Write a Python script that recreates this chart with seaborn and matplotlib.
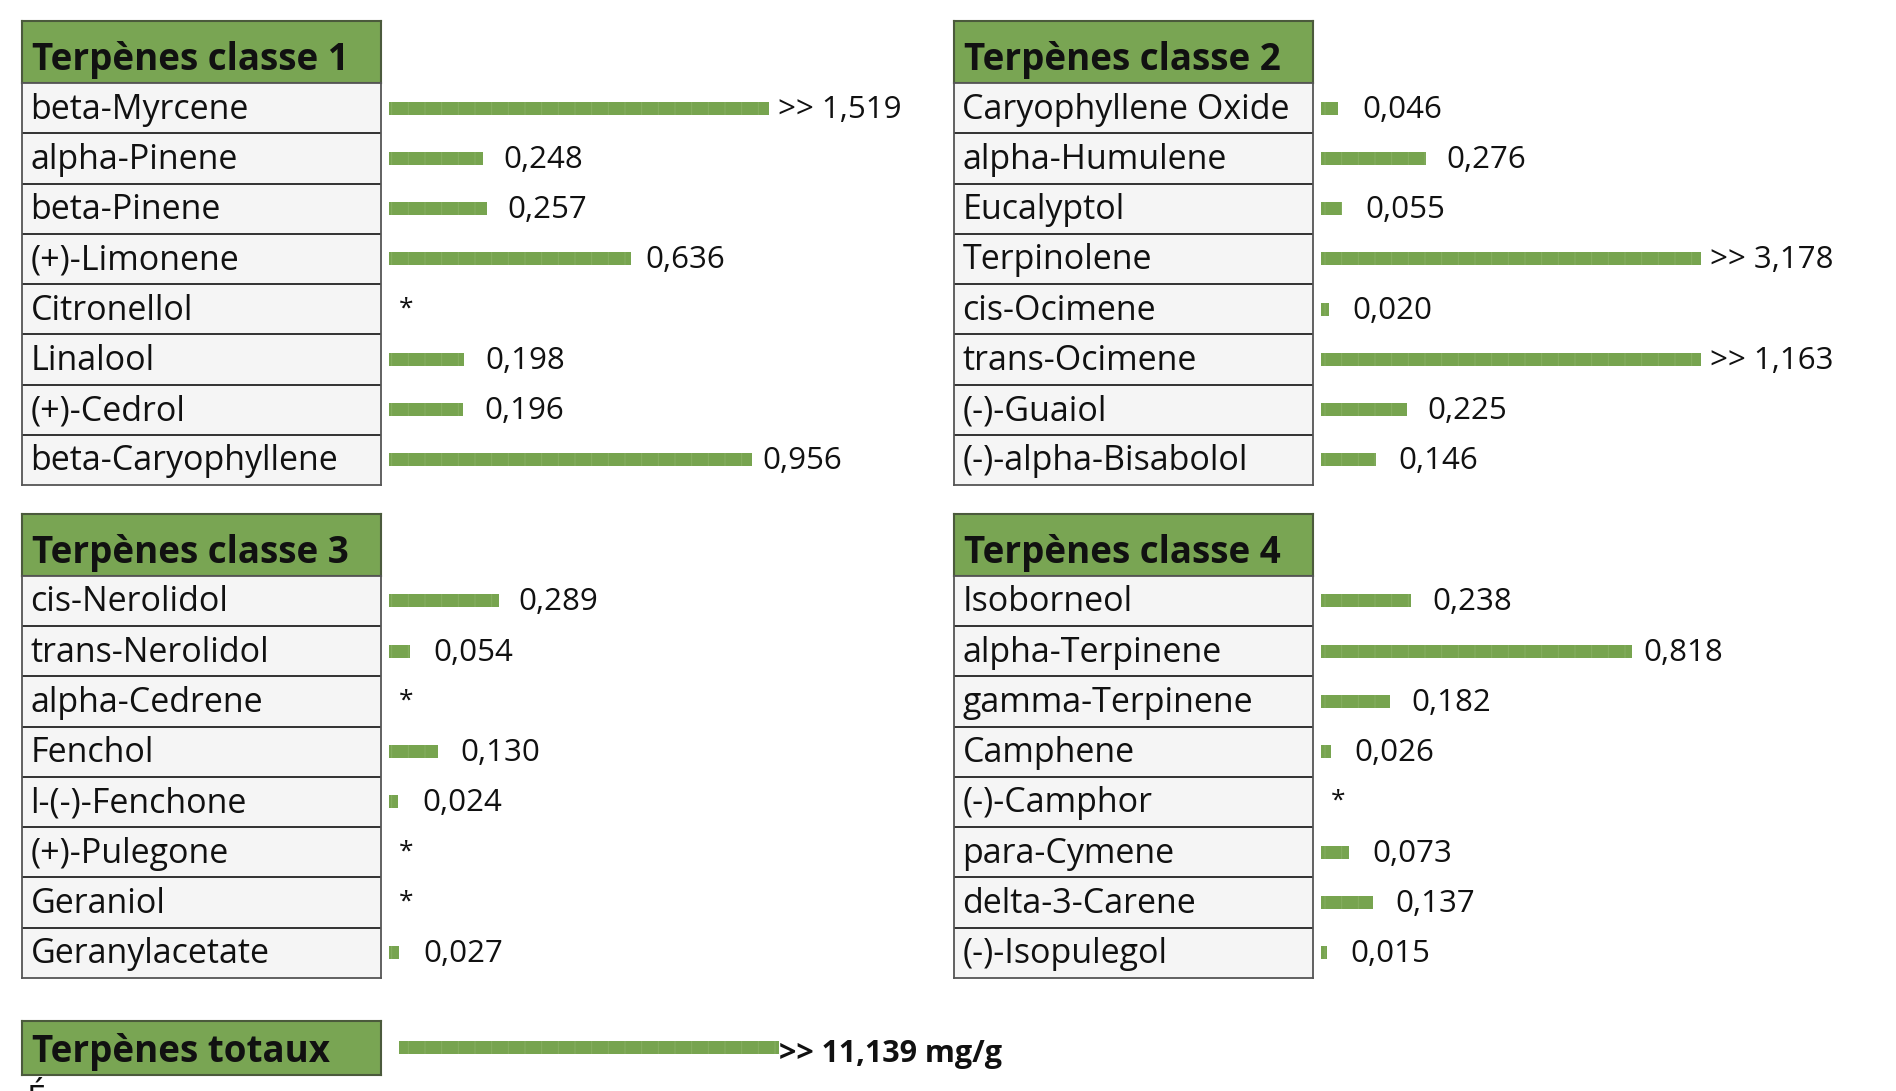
import numpy as np
import pandas as pd
import seaborn as sns
import matplotlib.pyplot as plt

# valeurs en mg/g, nan = non detecte (*)
classe1_noms = ["beta-Myrcene", "alpha-Pinene", "beta-Pinene", "(+)-Limonene",
                "Citronellol", "Linalool", "(+)-Cedrol", "beta-Caryophyllene"]
classe1_vals = [1.519, 0.248, 0.257, 0.636, np.nan, 0.198, 0.196, 0.956]

classe2_noms = ["Caryophyllene Oxide", "alpha-Humulene", "Eucalyptol", "Terpinolene",
                "cis-Ocimene", "trans-Ocimene", "(-)-Guaiol", "(-)-alpha-Bisabolol"]
classe2_vals = [0.046, 0.276, 0.055, 3.178, 0.020, 1.163, 0.225, 0.146]

classe3_noms = ["cis-Nerolidol", "trans-Nerolidol", "alpha-Cedrene", "Fenchol",
                "l-(-)-Fenchone", "(+)-Pulegone", "Geraniol", "Geranylacetate"]
classe3_vals = [0.289, 0.054, np.nan, 0.130, 0.024, np.nan, np.nan, 0.027]

classe4_noms = ["Isoborneol", "alpha-Terpinene", "gamma-Terpinene", "Camphene",
                "(-)-Camphor", "para-Cymene", "delta-3-Carene", "(-)-Isopulegol"]
classe4_vals = [0.238, 0.818, 0.182, 0.026, np.nan, 0.073, 0.137, 0.015]

titres = ["Terpènes classe 1", "Terpènes classe 2", "Terpènes classe 3", "Terpènes classe 4"]
total_titre = "Terpènes totaux"
total_val = 11.139
PLAFOND = 1.0  # au dela, la barre est coupee et le label prend ">>"

W, H = 1896, 1091
VERT = "#79a553"
VERT_BARRE = "#77a44f"
HACHURE = "#87b062"
GRIS_CELL = "#f5f5f5"
BOX_W = 359
HEAD_H = 62.3
ROW_H = 50.25
PX_UNIT = 380  # pixels pour 1 mg/g

sns.set_style("white")
plt.rcParams["font.family"] = ["Open Sans", "DejaVu Sans"]
plt.rcParams["hatch.linewidth"] = 0.7


def fmt(v):
    return f"{v:.3f}".replace(".", ",")


def px_axes(fig, x, y, w, h):
    return fig.add_axes([x / W, 1 - (y + h) / H, w / W, h / H])


def draw_header(fig, titre, x0, y0, h):
    ax = px_axes(fig, x0, y0, BOX_W, h)
    ax.set_facecolor(VERT)
    ax.set_xticks([])
    ax.set_yticks([])
    for s in ax.spines.values():
        s.set_color("#4b5a3c")
        s.set_linewidth(1.5)
    ax.text(9.5 / BOX_W, 13 / h, titre, transform=ax.transAxes,
            fontsize=26.5, fontweight="bold", va="baseline", color="#111111")


def draw_panel(fig, titre, noms, vals, x0, y0):
    draw_header(fig, titre, x0, y0, HEAD_H)
    n = len(noms)

    # colonne des noms
    ax_t = px_axes(fig, x0, y0 + HEAD_H, BOX_W, n * ROW_H)
    ax_t.set_facecolor(GRIS_CELL)
    ax_t.set_xlim(0, BOX_W)
    ax_t.set_ylim(n - 0.5, -0.5)
    ax_t.set_xticks([])
    ax_t.set_yticks([])
    for s in ax_t.spines.values():
        s.set_color("#555555")
        s.set_linewidth(1.3)
    for i in range(n - 1):
        ax_t.axhline(i + 0.5, color="#222222", lw=1.3)
    for i, nom in enumerate(noms):
        ax_t.text(8.5, i + 0.21, nom, fontsize=24.5, va="baseline", color="#111111")

    # barres
    df = pd.DataFrame({"nom": noms, "val": vals})
    df["barre"] = df["val"].clip(upper=PLAFOND).fillna(0)
    larg = 560
    ax_b = px_axes(fig, x0 + 367, y0 + HEAD_H, larg, n * ROW_H)
    sns.barplot(data=df, x="barre", y="nom", orient="h", ax=ax_b, color=VERT_BARRE,
                width=0.26, errorbar=None, saturation=1, hatch="|",
                edgecolor=HACHURE, linewidth=0)
    ax_b.set_xlim(0, larg / PX_UNIT)
    ax_b.set_ylim(n - 0.5, -0.5)
    ax_b.axis("off")
    for i, row in df.iterrows():
        if np.isnan(row["val"]):
            ax_b.text(0.026, i + 0.12, "*", fontsize=19, va="baseline", color="#111111")
            continue
        txt = fmt(row["val"])
        if row["val"] > PLAFOND:
            txt = ">> " + txt
        ax_b.text(0.96 * row["barre"] + 0.064, i + 0.19, txt, fontsize=22.5,
                  va="baseline", color="#111111")


fig = plt.figure(figsize=(W / 100, H / 100), dpi=100)

draw_panel(fig, titres[0], classe1_noms, classe1_vals, 22, 20.7)
draw_panel(fig, titres[1], classe2_noms, classe2_vals, 954, 20.7)
draw_panel(fig, titres[2], classe3_noms, classe3_vals, 22, 513.5)
draw_panel(fig, titres[3], classe4_noms, classe4_vals, 954, 513.5)

# total
tot_h = 54.5
draw_header(fig, total_titre, 22, 1020.5, tot_h)
ax_tot = px_axes(fig, 399, 1020.5, 560, tot_h)
df_tot = pd.DataFrame({"nom": [total_titre], "barre": [min(total_val, PLAFOND)]})
sns.barplot(data=df_tot, x="barre", y="nom", orient="h", ax=ax_tot, color=VERT_BARRE,
            width=0.24, errorbar=None, saturation=1, hatch="|",
            edgecolor=HACHURE, linewidth=0)
ax_tot.set_xlim(0, 560 / PX_UNIT)
ax_tot.set_ylim(0.5, -0.5)
ax_tot.axis("off")
ax_tot.text(df_tot["barre"][0], 0.27, ">> " + fmt(total_val) + " mg/g", fontsize=22,
            fontweight="bold", va="baseline", color="#111111")

# debut de la ligne suivante, coupee par le bord
fig.text(27 / W, 1 - 1084 / H, "É", fontsize=24.5, va="top", color="#111111")

fig.savefig("out.png", dpi=100)
